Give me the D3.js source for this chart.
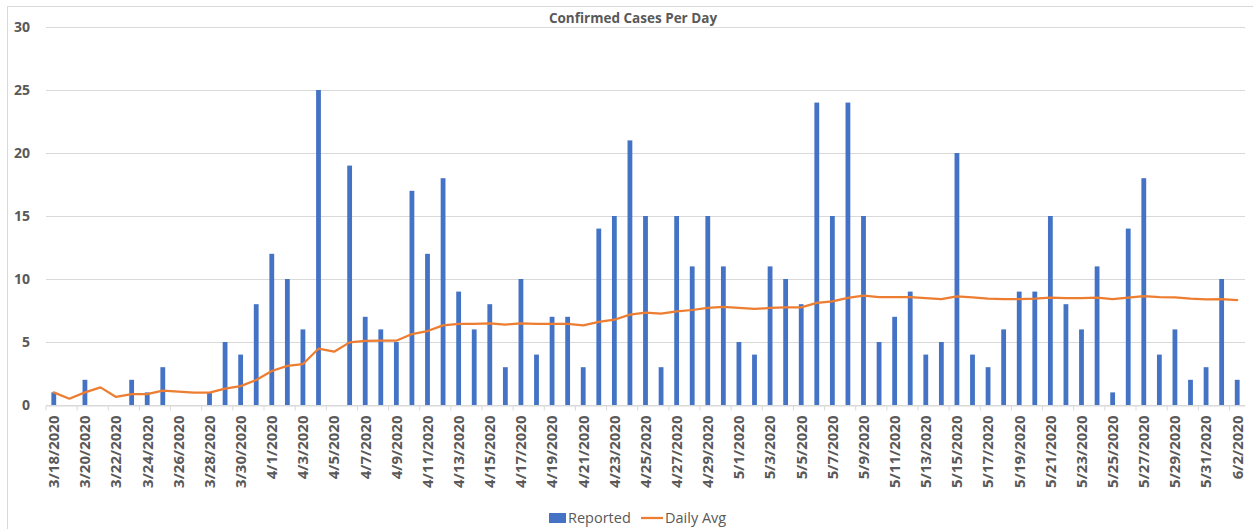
<!DOCTYPE html>
<html>
<head>
<meta charset="utf-8">
<script src="https://cdn.jsdelivr.net/npm/d3@7"></script>
<style>
  body { margin: 0; background: #fff; }
  svg { display: block; }
</style>
</head>
<body>
<svg id="svg"></svg>
<script>
let dates = ["3/18/2020", "3/19/2020", "3/20/2020", "3/21/2020", "3/22/2020", "3/23/2020", "3/24/2020",
  "3/25/2020", "3/26/2020", "3/27/2020", "3/28/2020", "3/29/2020", "3/30/2020", "3/31/2020",
  "4/1/2020", "4/2/2020", "4/3/2020", "4/4/2020", "4/5/2020", "4/6/2020", "4/7/2020", "4/8/2020",
  "4/9/2020", "4/10/2020", "4/11/2020", "4/12/2020", "4/13/2020", "4/14/2020", "4/15/2020",
  "4/16/2020", "4/17/2020", "4/18/2020", "4/19/2020", "4/20/2020", "4/21/2020", "4/22/2020",
  "4/23/2020", "4/24/2020", "4/25/2020", "4/26/2020", "4/27/2020", "4/28/2020", "4/29/2020",
  "4/30/2020", "5/1/2020", "5/2/2020", "5/3/2020", "5/4/2020", "5/5/2020", "5/6/2020", "5/7/2020",
  "5/8/2020", "5/9/2020", "5/10/2020", "5/11/2020", "5/12/2020", "5/13/2020", "5/14/2020",
  "5/15/2020", "5/16/2020", "5/17/2020", "5/18/2020", "5/19/2020", "5/20/2020", "5/21/2020",
  "5/22/2020", "5/23/2020", "5/24/2020", "5/25/2020", "5/26/2020", "5/27/2020", "5/28/2020",
  "5/29/2020", "5/30/2020", "5/31/2020", "6/1/2020", "6/2/2020"];

let reported = [1, 0, 2, 0, 0, 2, 1, 3, 0, 0, 1, 5, 4, 8, 12, 10, 6, 25, 0, 19, 7, 6, 5, 17, 12, 18,
  9, 6, 8, 3, 10, 4, 7, 7, 3, 14, 15, 21, 15, 3, 15, 11, 15, 11, 5, 4, 11, 10, 8, 24, 15, 24, 15,
  5, 7, 9, 4, 5, 20, 4, 3, 6, 9, 9, 15, 8, 6, 11, 1, 14, 18, 4, 6, 2, 3, 10, 2];

let dailyAvg = [1.0, 0.5, 1.0, 1.4, 0.64, 0.87, 0.87, 1.14, 1.06, 0.98, 0.98, 1.3, 1.5, 1.98, 2.7,
  3.1, 3.25, 4.47, 4.23, 4.97, 5.08, 5.1, 5.1, 5.63, 5.87, 6.32, 6.43, 6.43, 6.48, 6.38, 6.48, 6.43,
  6.43, 6.43, 6.32, 6.59, 6.77, 7.17, 7.33, 7.25, 7.43, 7.54, 7.7, 7.78, 7.7, 7.62, 7.7, 7.75, 7.75,
  8.1, 8.23, 8.5, 8.68, 8.57, 8.57, 8.57, 8.49, 8.41, 8.62, 8.54, 8.44, 8.41, 8.41, 8.44, 8.52, 8.49,
  8.49, 8.52, 8.41, 8.52, 8.65, 8.57, 8.54, 8.44, 8.39, 8.41, 8.33];

let yTicks = [0, 5, 10, 15, 20, 25, 30];

let title = "Confirmed Cases Per Day";
let seriesNames = ["Reported", "Daily Avg"];

let layout = {"width": 1253, "height": 529,
              "marginTop": 27, "marginRight": 8,
              "marginBottom": 124, "marginLeft": 46};

let blue = "#4472C4";
let orange = "#ED7D31";
let grey = "#595959";
let gridColor = "#D9D9D9";
let font = "'Open Sans', sans-serif";

let svgElement = d3.select("#svg")
                   .attr("width", layout.width)
                   .attr("height", layout.height);

// chart border
svgElement.append("rect")
          .attr("x", 7.5).attr("y", 6.5)
          .attr("width", 1260).attr("height", 540)
          .attr("fill", "none")
          .attr("stroke", gridColor);

let xScale = d3.scaleBand()
               .domain(dates)
               .range([layout.marginLeft, layout.width - layout.marginRight]);

let yScale = d3.scaleLinear()
               .domain([0, 30])
               .range([layout.height - layout.marginBottom, layout.marginTop]);

// gridlines
svgElement.append("g")
          .selectAll("line")
          .data(yTicks)
          .join("line")
          .attr("x1", layout.marginLeft)
          .attr("x2", layout.width - layout.marginRight)
          .attr("y1", d => Math.round(yScale(d)) + 0.5)
          .attr("y2", d => Math.round(yScale(d)) + 0.5)
          .attr("stroke", gridColor)
          .attr("stroke-width", 1);

// y labels
svgElement.append("g")
          .selectAll("text")
          .data(yTicks)
          .join("text")
          .attr("x", 30)
          .attr("y", d => yScale(d) + 5)
          .attr("text-anchor", "end")
          .attr("font-family", font)
          .attr("font-weight", "bold")
          .attr("font-size", 14)
          .attr("fill", grey)
          .text(d => d);

// x axis ticks every 2 categories
let xAxis = d3.axisBottom(xScale)
              .tickValues(dates.filter((d, i) => i % 2 == 0))
              .tickSize(5)
              .tickSizeOuter(0);

let axisG = svgElement.append("g")
                      .attr("transform", `translate(0, ${Math.round(yScale(0)) + 0.5})`)
                      .call(xAxis);

axisG.select(".domain").attr("stroke", gridColor);
axisG.selectAll(".tick line")
     .attr("stroke", gridColor)
     .attr("transform", `translate(${-xScale.bandwidth() / 2}, 0)`);
axisG.selectAll(".tick text")
     .attr("transform", "translate(0, 10) rotate(-90)")
     .attr("x", 0)
     .attr("y", 0)
     .attr("dy", "0.36em")
     .attr("text-anchor", "end")
     .attr("font-family", font)
     .attr("font-weight", "bold")
     .attr("font-size", 15)
     .attr("fill", grey);

// bars
let barWidth = 4.8;
svgElement.append("g")
          .selectAll(".bar")
          .data(reported)
          .join("rect")
          .attr("class", "bar")
          .attr("x", (d, i) => xScale(dates[i]) + xScale.bandwidth() / 2 - barWidth / 2)
          .attr("y", d => yScale(d))
          .attr("width", barWidth)
          .attr("height", d => yScale(0) - yScale(d))
          .attr("fill", blue);

// daily average line
let line = d3.line()
             .x((d, i) => xScale(dates[i]) + xScale.bandwidth() / 2)
             .y(d => yScale(d));

svgElement.append("path")
          .datum(dailyAvg)
          .attr("d", line)
          .attr("fill", "none")
          .attr("stroke", orange)
          .attr("stroke-width", 2.25)
          .attr("stroke-linejoin", "round")
          .attr("stroke-linecap", "round");

// title
svgElement.append("text")
          .attr("x", 633)
          .attr("y", 23)
          .attr("text-anchor", "middle")
          .attr("font-family", font)
          .attr("font-weight", "bold")
          .attr("font-size", 13.5)
          .attr("fill", grey)
          .text(title);

// legend
let legend = svgElement.append("g");
legend.append("rect")
      .attr("x", 549).attr("y", 513)
      .attr("width", 17).attr("height", 10)
      .attr("fill", blue);
legend.append("text")
      .attr("x", 568).attr("y", 523)
      .attr("font-family", font)
      .attr("font-size", 14.5)
      .attr("fill", grey)
      .text(seriesNames[0]);
legend.append("line")
      .attr("x1", 641).attr("x2", 663)
      .attr("y1", 518).attr("y2", 518)
      .attr("stroke", orange)
      .attr("stroke-width", 2.25);
legend.append("text")
      .attr("x", 665).attr("y", 523)
      .attr("font-family", font)
      .attr("font-size", 14.5)
      .attr("fill", grey)
      .text(seriesNames[1]);
</script>
</body>
</html>
